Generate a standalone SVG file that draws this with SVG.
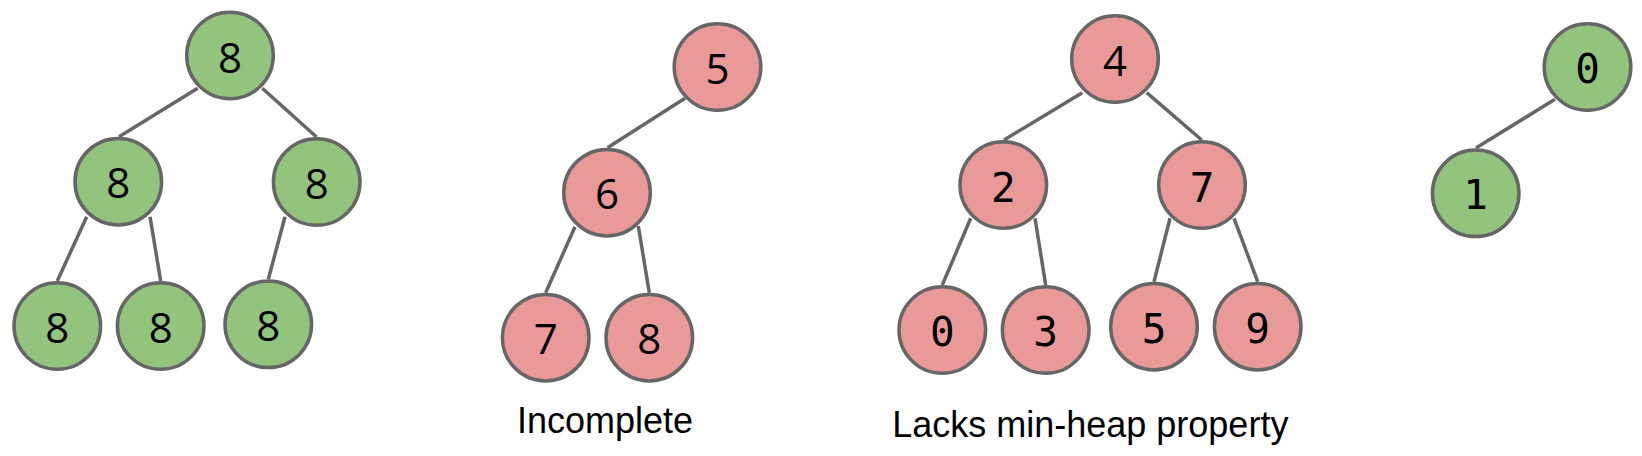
<svg xmlns="http://www.w3.org/2000/svg" width="1642" height="456" viewBox="0 0 1642 456">
<style>
.edge{stroke:#666666;stroke-width:3.5;fill:none}
.g{fill:#93c47d;stroke:#666666;stroke-width:3.5}
.r{fill:#ea9999;stroke:#666666;stroke-width:3.5}
.s{font-family:"Open Sans","Liberation Sans",sans-serif;font-size:42px;text-anchor:middle;fill:#000}
.m{font-family:"DejaVu Sans Mono","Liberation Mono",monospace;font-size:41px;text-anchor:middle;fill:#000}
.cap{font-family:"Liberation Sans",Arial,sans-serif;font-size:36px;text-anchor:middle;fill:#000}
</style>
<rect width="1642" height="456" fill="#ffffff"/>
<g id="connectors">
<line class="edge" x1="197.7" y1="88.3" x2="119" y2="136.7"/>
<line class="edge" x1="262.3" y1="88.3" x2="316.5" y2="137"/>
<line class="edge" x1="86.7" y1="216.7" x2="57.3" y2="281"/>
<line class="edge" x1="150" y1="216.7" x2="160.7" y2="281"/>
<line class="edge" x1="285" y1="216.7" x2="268.3" y2="279.3"/>
<line class="edge" x1="685" y1="98.3" x2="607.5" y2="147.7"/>
<line class="edge" x1="575" y1="226.7" x2="545.7" y2="292.7"/>
<line class="edge" x1="638.3" y1="226" x2="649.3" y2="292.7"/>
<line class="edge" x1="1082.3" y1="92.7" x2="1004" y2="140"/>
<line class="edge" x1="1146.7" y1="92.7" x2="1201.7" y2="140"/>
<line class="edge" x1="970.7" y1="218.3" x2="942.3" y2="285"/>
<line class="edge" x1="1035" y1="218.3" x2="1045.7" y2="285"/>
<line class="edge" x1="1170" y1="218.3" x2="1154" y2="281.7"/>
<line class="edge" x1="1234" y1="218.3" x2="1257.7" y2="281.7"/>
<line class="edge" x1="1555" y1="99.3" x2="1476" y2="148"/>
</g>
<g id="t1-root"><circle class="g" cx="230" cy="55.5" r="43.3"/><text class="s" x="230" y="72.5">8</text></g>
<g id="t1-l"><circle class="g" cx="118.3" cy="181.7" r="43.3"/><text class="s" x="118.3" y="198.2">8</text></g>
<g id="t1-r"><circle class="g" cx="316.7" cy="182" r="43.3"/><text class="s" x="316.7" y="198.5">8</text></g>
<g id="t1-ll"><circle class="g" cx="57.3" cy="326" r="43.3"/><text class="s" x="57.3" y="342.5">8</text></g>
<g id="t1-lr"><circle class="g" cx="160.7" cy="326" r="43.3"/><text class="s" x="160.7" y="342.5">8</text></g>
<g id="t1-rl"><circle class="g" cx="268.3" cy="324.3" r="43.3"/><text class="s" x="268.3" y="340.8">8</text></g>
<g id="t2-root"><circle class="r" cx="717.5" cy="67" r="43.3"/><text class="s" x="717.5" y="83.5">5</text></g>
<g id="t2-l"><circle class="r" cx="607" cy="192.7" r="43.3"/><text class="s" x="607" y="209.2">6</text></g>
<g id="t2-ll"><circle class="r" cx="545.7" cy="337.7" r="43.3"/><text class="s" x="545.7" y="354.2">7</text></g>
<g id="t2-lr"><circle class="r" cx="649.3" cy="337.7" r="43.3"/><text class="s" x="649.3" y="354.2">8</text></g>
<g id="t2-label"><text class="cap" x="605" y="432.5">Incomplete</text></g>
<g id="t3-root"><circle class="r" cx="1115" cy="59" r="43.3"/><text class="s" x="1115" y="75.5">4</text></g>
<g id="t3-l"><circle class="r" cx="1003.3" cy="185" r="43.3"/><text class="m" x="1003.3" y="201.5">2</text></g>
<g id="t3-r"><circle class="r" cx="1202" cy="185" r="43.3"/><text class="m" x="1202" y="201.5">7</text></g>
<g id="t3-ll"><circle class="r" cx="942.3" cy="330" r="43.3"/><text class="m" x="942.3" y="346">0</text></g>
<g id="t3-lr"><circle class="r" cx="1045.7" cy="330" r="43.3"/><text class="m" x="1045.7" y="346">3</text></g>
<g id="t3-rl"><circle class="r" cx="1154" cy="326.7" r="43.3"/><text class="m" x="1154" y="342.7">5</text></g>
<g id="t3-rr"><circle class="r" cx="1257.7" cy="326.7" r="43.3"/><text class="m" x="1257.7" y="342.7">9</text></g>
<g id="t3-label"><text class="cap" x="1090.3" y="436.7">Lacks min-heap property</text></g>
<g id="t4-root"><circle class="g" cx="1587.5" cy="67" r="43.3"/><text class="m" x="1587.5" y="83">0</text></g>
<g id="t4-l"><circle class="g" cx="1475.7" cy="193.3" r="43.3"/><text class="m" x="1475.7" y="209.3">1</text></g>
</svg>
